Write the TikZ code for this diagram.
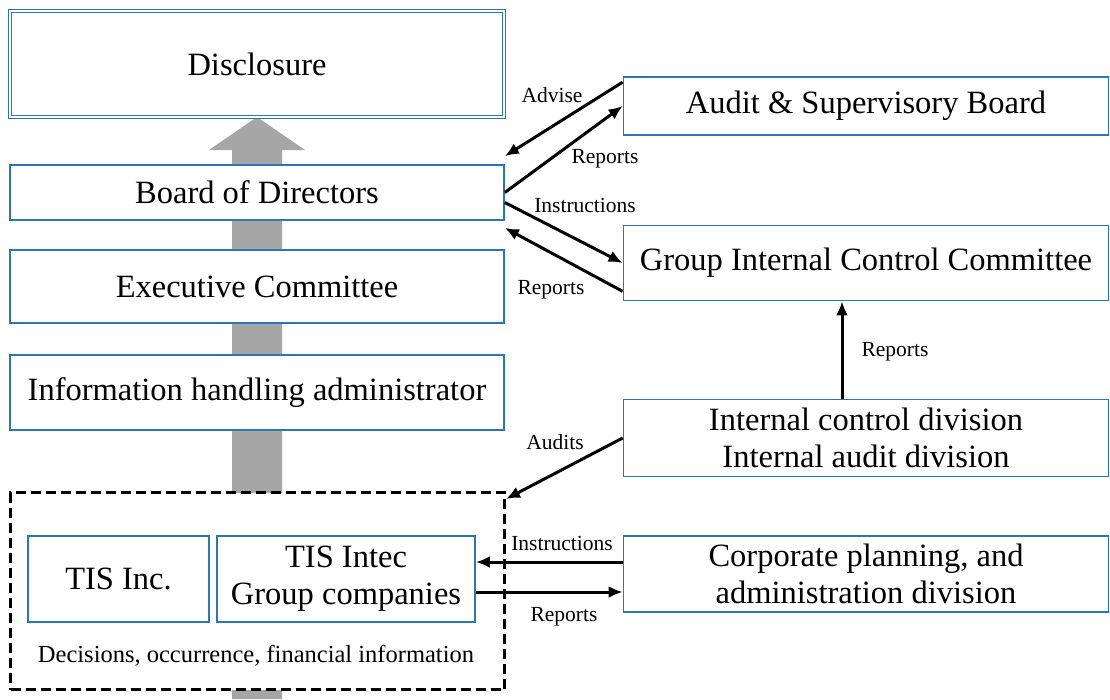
\documentclass[tikz,border=0pt]{standalone}
\usepackage{fontspec}
\setmainfont{Liberation Serif}
\usetikzlibrary{arrows.meta}
\definecolor{boxblue}{RGB}{46,117,182}
\definecolor{flowgray}{RGB}{166,166,166}

\begin{document}
\begin{tikzpicture}[x=1pt,y=-1pt,>={Latex[length=14pt,width=12pt]},
    box/.style={draw=boxblue,line width=1.7pt,fill=white,rectangle,
      inner sep=0pt,align=center,font=\fontsize{32.5}{37}\selectfont},
    lbl/.style={font=\fontsize{21.5}{25}\selectfont,inner sep=0pt},
    link/.style={->,line width=3pt}]
  \useasboundingbox (0,0) rectangle (1110,699);
  % gray flow arrow behind the left column
  \fill[flowgray] (232,699) -- (232,150) -- (209,150) -- (257,117)
    -- (305,150) -- (282,150) -- (282,699) -- cycle;

  % left column
  \node[box,double=white,double distance=2pt,line width=1.3pt,
    minimum width=494pt,minimum height=106pt] (disc) at (257,64) {Disclosure};
  \node[box,minimum width=494pt,minimum height=55pt] (board) at (257,192.5) {Board of Directors};
  \node[box,minimum width=494pt,minimum height=73pt] (exec) at (257,286.5) {Executive Committee};
  \node[box,minimum width=494pt,minimum height=75pt] (info) at (257,392.5) {Information handling administrator};

  \node[draw,fill=white,line width=3pt,dash pattern=on 10pt off 5pt,
    minimum width=494pt,minimum height=197pt,inner sep=0pt] (group) at (257.5,591) {};
  \node[box,minimum width=181pt,minimum height=86pt] (tisinc) at (118.5,579) {TIS Inc.};
  \node[box,minimum width=258pt,minimum height=86pt] (tisintec) at (346,579) {TIS Intec\\Group companies};
  \node[font=\fontsize{24.5}{28}\selectfont,inner sep=0pt] (decis) at (256,656)
    {Decisions, occurrence, financial information};

  % right column
  \node[box,minimum width=485pt,minimum height=58pt] (audit) at (866,106) {Audit \& Supervisory Board};
  \node[box,minimum width=485pt,minimum height=75pt] (gicc) at (866,263) {Group Internal Control Committee};
  \node[box,minimum width=485pt,minimum height=77pt] (icd) at (866,438) {Internal control division\\Internal audit division};
  \node[box,minimum width=485pt,minimum height=76pt] (corp) at (866,574) {Corporate planning, and\\administration division};

  % connectors
  \draw[link] ([yshift=-6pt]audit.north west) -- ([yshift=8pt]board.north east);
  \draw[link] (board.east) -- (audit.west);
  \draw[link] ([yshift=-10pt]board.east) -- (gicc.west);
  \draw[link] ([yshift=10pt]gicc.south west) -- ([yshift=-7pt]board.south east);
  \draw[link] ([xshift=-24pt]icd.north) -- ([xshift=-24pt]gicc.south);
  \draw[link] (icd.west) -- ([yshift=-8pt]group.north east);
  \draw[link] ([yshift=12pt]corp.west) -- ([yshift=12pt]corp.west -| tisintec.east);
  \draw[link] ([yshift=-18pt]corp.west -| tisintec.east) -- ([yshift=-18pt]corp.west);

  \node[lbl] (l1) at (552,95) {Advise};
  \node[lbl] (l2) at (605,159) {Reports};
  \node[lbl] (l3) at (585,205) {Instructions};
  \node[lbl] (l4) at (551,290) {Reports};
  \node[lbl] (l5) at (895,352) {Reports};
  \node[lbl] (l6) at (555,442) {Audits};
  \node[lbl] (l7) at (562,543) {Instructions};
  \node[lbl] (l8) at (564,617) {Reports};
\end{tikzpicture}
\end{document}
